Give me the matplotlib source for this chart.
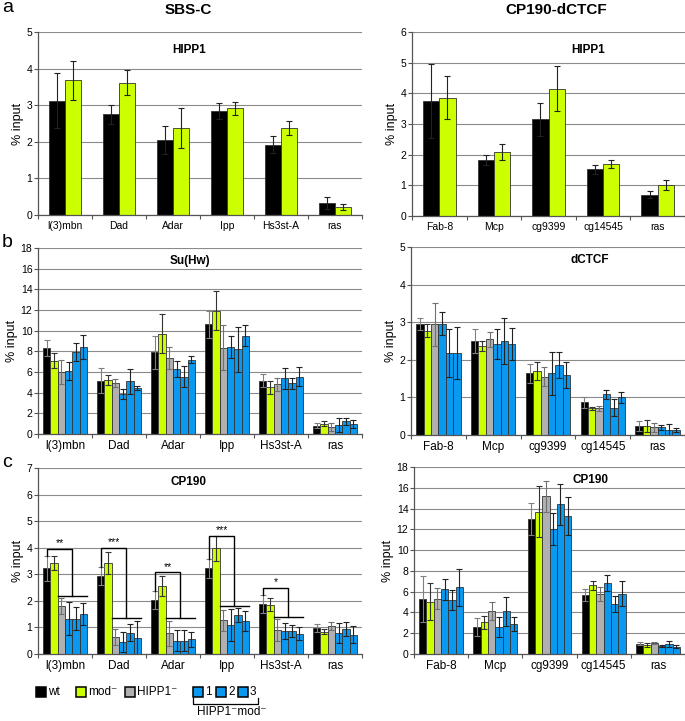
import numpy as np
import matplotlib
matplotlib.use('Agg')
import matplotlib.pyplot as plt
from matplotlib.patches import Rectangle
from matplotlib.lines import Line2D

plt.rcParams['font.family'] = ['Liberation Sans', 'DejaVu Sans']

# ---- data ----
sbs_sites = ['l(3)mbn', 'Dad', 'Adar', 'Ipp', 'Hs3st-A', 'ras']
ctcf_sites = ['Fab-8', 'Mcp', 'cg9399', 'cg14545', 'ras']

# rows: wt, mod-
hipp1_sbs = [[3.12, 2.75, 2.05, 2.85, 1.92, 0.32],
             [3.68, 3.62, 2.38, 2.92, 2.38, 0.22]]
hipp1_sbs_err = [[0.75, 0.25, 0.38, 0.22, 0.23, 0.16],
                 [0.53, 0.35, 0.55, 0.18, 0.20, 0.07]]
hipp1_ctcf = [[3.75, 1.82, 3.15, 1.52, 0.70],
              [3.86, 2.09, 4.15, 1.69, 1.01]]
hipp1_ctcf_err = [[1.20, 0.17, 0.55, 0.15, 0.12],
                  [0.70, 0.27, 0.73, 0.13, 0.16]]

# rows: wt, mod-, HIPP1-, HIPP1-mod- 1, 2, 3
suhw_sbs = [[8.30, 5.15, 7.90, 10.60, 5.15, 0.82],
            [7.10, 5.20, 9.70, 11.95, 4.50, 0.99],
            [6.00, 4.90, 7.35, 8.35, 4.80, 0.66],
            [6.10, 3.90, 6.30, 8.40, 5.40, 0.85],
            [7.95, 5.10, 5.55, 8.20, 4.90, 1.21],
            [8.40, 4.45, 7.20, 9.50, 5.55, 0.99]]
suhw_sbs_err = [[0.75, 1.20, 1.60, 1.30, 0.65, 0.27],
                [0.75, 0.50, 1.90, 1.85, 0.60, 0.25],
                [1.20, 0.40, 1.10, 2.15, 0.60, 0.40],
                [0.85, 0.50, 0.75, 1.05, 1.00, 0.70],
                [0.85, 1.20, 1.00, 2.20, 0.50, 0.35],
                [1.15, 0.20, 0.30, 1.00, 0.95, 0.40]]

dctcf_ctcf = [[2.96, 2.50, 1.64, 0.87, 0.24],
              [2.77, 2.37, 1.70, 0.71, 0.24],
              [2.94, 2.55, 1.55, 0.71, 0.20],
              [2.96, 2.41, 1.64, 1.08, 0.20],
              [2.17, 2.50, 1.86, 0.73, 0.13],
              [2.19, 2.42, 1.59, 1.00, 0.13]]
dctcf_ctcf_err = [[0.16, 0.31, 0.26, 0.15, 0.13],
                  [0.17, 0.13, 0.23, 0.04, 0.16],
                  [0.58, 0.20, 0.25, 0.06, 0.13],
                  [0.31, 0.40, 0.57, 0.13, 0.07],
                  [0.64, 0.62, 0.35, 0.22, 0.16],
                  [0.69, 0.43, 0.34, 0.15, 0.05]]

cp190_sbs = [[3.22, 2.94, 2.04, 3.22, 1.88, 0.98],
             [3.42, 3.42, 2.56, 3.98, 1.85, 0.84],
             [1.81, 0.63, 0.78, 1.27, 0.90, 1.06],
             [1.33, 0.46, 0.50, 1.09, 0.87, 0.78],
             [1.33, 0.80, 0.50, 1.47, 0.87, 0.94],
             [1.51, 0.59, 0.55, 1.24, 0.77, 0.73]]
cp190_sbs_err = [[0.47, 0.33, 0.33, 0.35, 0.34, 0.14],
                 [0.25, 0.41, 0.38, 0.47, 0.24, 0.09],
                 [0.29, 0.30, 0.48, 0.39, 0.41, 0.14],
                 [0.62, 0.38, 0.40, 0.59, 0.31, 0.38],
                 [0.43, 0.32, 0.40, 0.25, 0.22, 0.28],
                 [0.42, 0.65, 0.29, 0.39, 0.26, 0.33]]

cp190_ctcf = [[5.27, 2.60, 13.00, 5.69, 1.00],
              [5.05, 3.05, 13.70, 6.62, 0.87],
              [5.34, 4.12, 15.20, 5.79, 1.09],
              [6.24, 2.60, 12.00, 6.82, 0.77],
              [5.18, 4.12, 14.40, 4.82, 0.93],
              [6.43, 2.89, 13.25, 5.79, 0.71]]
cp190_ctcf_err = [[2.20, 0.84, 1.58, 0.58, 0.13],
                  [1.77, 0.65, 2.48, 0.45, 0.16],
                  [1.00, 0.87, 1.50, 0.70, 0.10],
                  [1.00, 0.94, 1.55, 0.77, 0.13],
                  [0.96, 1.40, 1.96, 0.77, 0.29],
                  [1.77, 0.70, 1.83, 1.20, 0.13]]

# significance brackets, CP190 at SBS-C (first five sites)
sig_stars = ['**', '***', '**', '***', '*']
sig_top = [3.94, 4.00, 3.07, 4.45, 2.47]

colors = ['#000000', '#ccff00', '#b0b0b0', '#0a99f0', '#0a99f0', '#0a99f0']
ecolors = ['#808080', '#333333', '#707070', '#222222', '#222222', '#222222']

W, H = 685, 721
fig = plt.figure(figsize=(W / 100, H / 100), dpi=100)


def box(x0, y0, x1, y1):
    return [x0 / W, 1 - y1 / H, (x1 - x0) / W, (y1 - y0) / H]


def fx(x):
    return x / W


def fy(y):
    return 1 - y / H


def bar_panel(ax, sites, means, errs, ymax, step, title, tx, ty, w, lab_fs):
    x = np.arange(len(sites))
    n = len(means)
    for k in range(n):
        off = (k - (n - 1) / 2) * w
        ec = '#222222' if n == 2 else ecolors[k]
        ax.bar(x + off, means[k], w, yerr=errs[k], color=colors[k],
               edgecolor='#333333', linewidth=0.6, zorder=2,
               error_kw=dict(ecolor=ec, elinewidth=0.8, capsize=2, capthick=0.8))
    ax.set_xlim(-0.5, len(sites) - 0.5)
    ax.set_ylim(0, ymax)
    ax.set_yticks(np.arange(0, ymax + 0.01, step))
    ax.set_xticks(np.arange(len(sites) + 1) - 0.5)
    ax.set_xticklabels([])
    ax.set_xticks(x, minor=True)
    ax.set_xticklabels(sites, minor=True, fontsize=lab_fs)
    ax.tick_params(axis='x', which='major', length=3, color='#555555')
    ax.tick_params(axis='x', which='minor', length=0, pad=4)
    ax.tick_params(axis='y', length=3, labelsize=7.5, pad=1, color='#555555')
    ax.yaxis.grid(True, color='#8a8a8a', linewidth=0.8)
    ax.set_axisbelow(True)
    for s in ['top', 'right']:
        ax.spines[s].set_visible(False)
    for s in ['left', 'bottom']:
        ax.spines[s].set_color('#555555')
        ax.spines[s].set_linewidth(0.9)
    ax.set_ylabel('% input', fontsize=9, labelpad=2)
    ax.text(tx, ty, title, transform=ax.transAxes, ha='center', va='center',
            fontsize=8.5, weight='bold')


ax_a1 = fig.add_axes(box(38, 32, 362, 215))
ax_a2 = fig.add_axes(box(412, 32, 685, 216))
ax_b1 = fig.add_axes(box(38, 248, 362, 434))
ax_b2 = fig.add_axes(box(411, 247, 685, 435))
ax_c1 = fig.add_axes(box(38, 468, 362, 654))
ax_c2 = fig.add_axes(box(414, 467, 685, 654))

bar_panel(ax_a1, sbs_sites, hipp1_sbs, hipp1_sbs_err, 5, 1, 'HIPP1', 0.466, 0.90, 0.3, 7.5)
bar_panel(ax_a2, ctcf_sites, hipp1_ctcf, hipp1_ctcf_err, 6, 1, 'HIPP1', 0.645, 0.90, 0.3, 7.5)
bar_panel(ax_b1, sbs_sites, suhw_sbs, suhw_sbs_err, 18, 2, 'Su(Hw)', 0.47, 0.93, 0.135, 8.5)
bar_panel(ax_b2, ctcf_sites, dctcf_ctcf, dctcf_ctcf_err, 5, 1, 'dCTCF', 0.653, 0.93, 0.135, 8.5)
bar_panel(ax_c1, sbs_sites, cp190_sbs, cp190_sbs_err, 7, 1, 'CP190', 0.466, 0.925, 0.135, 8.5)
bar_panel(ax_c2, ctcf_sites, cp190_ctcf, cp190_ctcf_err, 18, 2, 'CP190', 0.65, 0.93, 0.135, 8.5)

# significance brackets: wt vs the HIPP1- and double mutant group
w = 0.135
for i, stars in enumerate(sig_stars):
    wt_x = i - 2.5 * w
    mut_x = i + w
    wt_top = cp190_sbs[0][i] + cp190_sbs_err[0][i]
    low = max(cp190_sbs[k][i] + cp190_sbs_err[k][i] for k in range(2, 6)) + 0.1
    ax_c1.plot([wt_x, wt_x, mut_x, mut_x], [wt_top, sig_top[i], sig_top[i], low],
               color='black', lw=1, zorder=3)
    ax_c1.plot([i - w, i + 3 * w], [low, low], color='black', lw=1, zorder=3)
    ax_c1.text((wt_x + mut_x) / 2, sig_top[i] + 0.03, stars, ha='center', va='bottom',
               fontsize=7.5)

# titles and panel letters
fig.text(fx(188), fy(10), 'SBS-C', ha='center', va='center', fontsize=11, weight='bold')
fig.text(fx(556), fy(10), 'CP190-dCTCF', ha='center', va='center', fontsize=11, weight='bold')
fig.text(fx(8), fy(8), 'a', ha='center', va='center', fontsize=14)
fig.text(fx(7), fy(242), 'b', ha='center', va='center', fontsize=14)
fig.text(fx(7), fy(462), 'c', ha='center', va='center', fontsize=14)

# legend
sq = 10
legend_items = [(36, 'wt', colors[0]), (76, 'mod⁻', colors[1]), (125, 'HIPP1⁻', colors[2]),
                (193, '1', colors[3]), (216, '2', colors[4]), (238, '3', colors[5])]
for lx, txt, col in legend_items:
    fig.add_artist(Rectangle((fx(lx), fy(692 + sq / 2)), sq / W, sq / H, facecolor=col,
                             edgecolor='black', linewidth=1.1, transform=fig.transFigure))
    fig.text(fx(lx + sq + 2), fy(692), txt, ha='left', va='center', fontsize=8.5)
fig.add_artist(Line2D([fx(193), fx(193), fx(258), fx(258)], [fy(698), fy(704), fy(704), fy(698)],
                      color='black', lw=0.9, transform=fig.transFigure))
fig.text(fx(232), fy(712), 'HIPP1⁻mod⁻', ha='center', va='center', fontsize=8.5)

fig.savefig('out.png', dpi=100)
